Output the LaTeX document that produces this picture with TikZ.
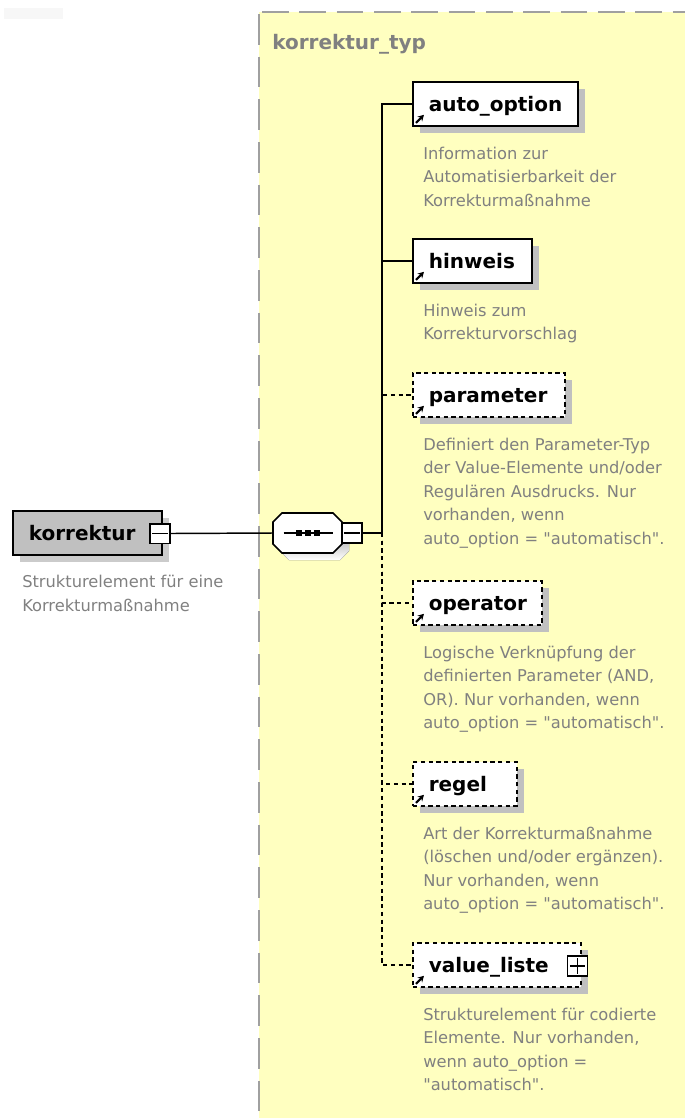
\documentclass[tikz,border=0pt]{standalone}
\usepackage{fontspec}
\setmainfont{DejaVu Sans}[Ligatures=TeXOff]
\usetikzlibrary{calc,shadows,arrows.meta}

\definecolor{typfill}{HTML}{FFFFC0}
\definecolor{typline}{HTML}{A0A0A0}
\definecolor{desctext}{HTML}{808080}
\definecolor{shade}{HTML}{C0C0C0}
\definecolor{rootshade}{HTML}{CBCBCB}

\begin{document}
\begin{tikzpicture}[x=0.75pt,y=-0.75pt,
  conn/.style={line width=1.1pt, draw=black},
  optional/.style={dash pattern=on 3.2pt off 2.6pt},
  elem/.style={draw=black, line width=1.2pt, fill=white, rectangle,
    minimum height=33pt, inner xsep=12pt, inner ysep=0pt, anchor=west,
    font=\fontsize{15}{18}\selectfont\bfseries, text height=11pt, text depth=0pt,
    align=left, text width=#1,
    drop shadow={shadow xshift=5.25pt, shadow yshift=-5.25pt, fill=shade, opacity=1}},
  rootelem/.style={elem=#1, fill=shade,
    drop shadow={shadow xshift=5.25pt, shadow yshift=-5.25pt, fill=rootshade, opacity=1}},
  desc/.style={font=\fontsize{12.2}{17.6}\selectfont, text=desctext, align=left,
    anchor=north west, inner sep=0pt},
  toggle/.style={draw=black, line width=1pt, fill=white, rectangle,
    minimum width=15pt, minimum height=14.5pt, inner sep=0pt},
  reficon/.style={-{Stealth[length=4.5pt,width=5pt]}, line width=1.6pt},
  typtitle/.style={font=\fontsize{15}{18}\selectfont\bfseries, text=desctext,
    anchor=base west, inner sep=0pt}
]
\useasboundingbox (0,0) rectangle (685,1118);
\clip (0,0) rectangle (685,1118);

% faint patch in the corner
\fill[black!3] (4,8) rectangle (63,19);

% complex type area
\fill[typfill] (259,12) rectangle (700,1130);
\draw[typline, line width=1.5pt, dash pattern=on 20pt off 8pt] (262,12) -- (700,12);
\draw[typline, line width=1.5pt, dash pattern=on 23pt off 9pt] (259,14) -- (259,1130);
\node[typtitle] (typname) at (272,49) {korrektur\_typ};

% root element
\node[rootelem=87.75pt] (root) at (12,533) {korrektur};
\node[toggle] (rootminus) at (160,533.5) {};
\draw[line width=1pt] ($(rootminus.west)+(3,0)$) -- ($(rootminus.east)+(-3,0)$);
\node[desc, anchor=north west] (rootdesc) at (22,575) {Strukturelement für eine\\Korrekturmaßnahme};

% sequence compositor
\node[minimum width=51.75pt, minimum height=30pt, inner sep=0pt] (seq) at (307.5,533) {};
\fill[shade, shift={(7,7)}] (282,513) -- (333,513) -- (342,522) -- (342,544) -- (333,553)
  -- (282,553) -- (273,544) -- (273,522) -- cycle;
\draw[line width=1.2pt, fill=white] (282,513) -- (333,513) -- (342,522) -- (342,544) -- (333,553)
  -- (282,553) -- (273,544) -- (273,522) -- cycle;
\draw[line width=1.1pt] ($(seq.center)+(-24,0)$) -- ($(seq.center)+(25,0)$);
\foreach \dx in {-9,0,9}
  \fill ($(seq.center)+(\dx,0)+(-3,-3)$) rectangle ++(6,6);
\node[toggle, minimum height=15pt] (seqminus) at (352,533) {};
\draw[line width=1pt] ($(seqminus.west)+(3,0)$) -- ($(seqminus.east)+(-3,0)$);

\coordinate (fork) at (382,533);

% child elements
\node[elem=99.75pt] (auto) at (412,104) {auto\_option};
\node[elem=65.25pt] (hinweis) at (412,261) {hinweis};
\node[elem=90pt, optional] (parameter) at (412,395) {parameter};
\node[elem=72.75pt, optional] (operator) at (412,603) {operator};
\node[elem=54pt, optional] (regel) at (412,784) {regel};
\node[elem=102pt, optional] (valueliste) at (412,965) {value\_liste};
\node[toggle, minimum height=15pt] (vlplus) at (577.5,966) {};
\draw[line width=1pt] ($(vlplus.west)+(3,0)$) -- ($(vlplus.east)+(-3,0)$);
\draw[line width=1pt] ($(vlplus.north)+(0,3)$) -- ($(vlplus.south)+(0,-3)$);

% reference arrows
\foreach \n in {auto,hinweis,parameter,operator,regel,valueliste}
  \draw[reficon] ($(\n.south west)+(4,-4)$) -- ++(8,-8);

% connectors
\draw[conn] (rootminus.east) -- (seq.west);
\draw[conn] (seqminus.east) -- (fork);
\draw[conn, optional] (fork) |- (parameter.west);
\draw[conn, optional] (fork) |- (operator.west);
\draw[conn, optional] (fork) |- (regel.west);
\draw[conn, optional] (fork) |- (valueliste.west);
\draw[conn] (fork) |- (hinweis.west);
\draw[conn] (fork) |- (auto.west);

% annotations
\node[desc] (autodesc) at (423,146.5) {Information zur\\Automatisierbarkeit der\\Korrekturmaßnahme};
\node[desc] (hinweisdesc) at (423,303.5) {Hinweis zum\\Korrekturvorschlag};
\node[desc] (parameterdesc) at (423,437.5) {Definiert den Parameter-Typ\\der Value-Elemente und/oder\\Regulären Ausdrucks. Nur\\vorhanden, wenn\\auto\_option = "automatisch".};
\node[desc] (operatordesc) at (423,645.5) {Logische Verknüpfung der\\definierten Parameter (AND,\\OR). Nur vorhanden, wenn\\auto\_option = "automatisch".};
\node[desc] (regeldesc) at (423,826.5) {Art der Korrekturmaßnahme\\(löschen und/oder ergänzen).\\Nur vorhanden, wenn\\auto\_option = "automatisch".};
\node[desc] (valuelistedesc) at (423,1007.5) {Strukturelement für codierte\\Elemente. Nur vorhanden,\\wenn auto\_option =\\"automatisch".};
\end{tikzpicture}
\end{document}
